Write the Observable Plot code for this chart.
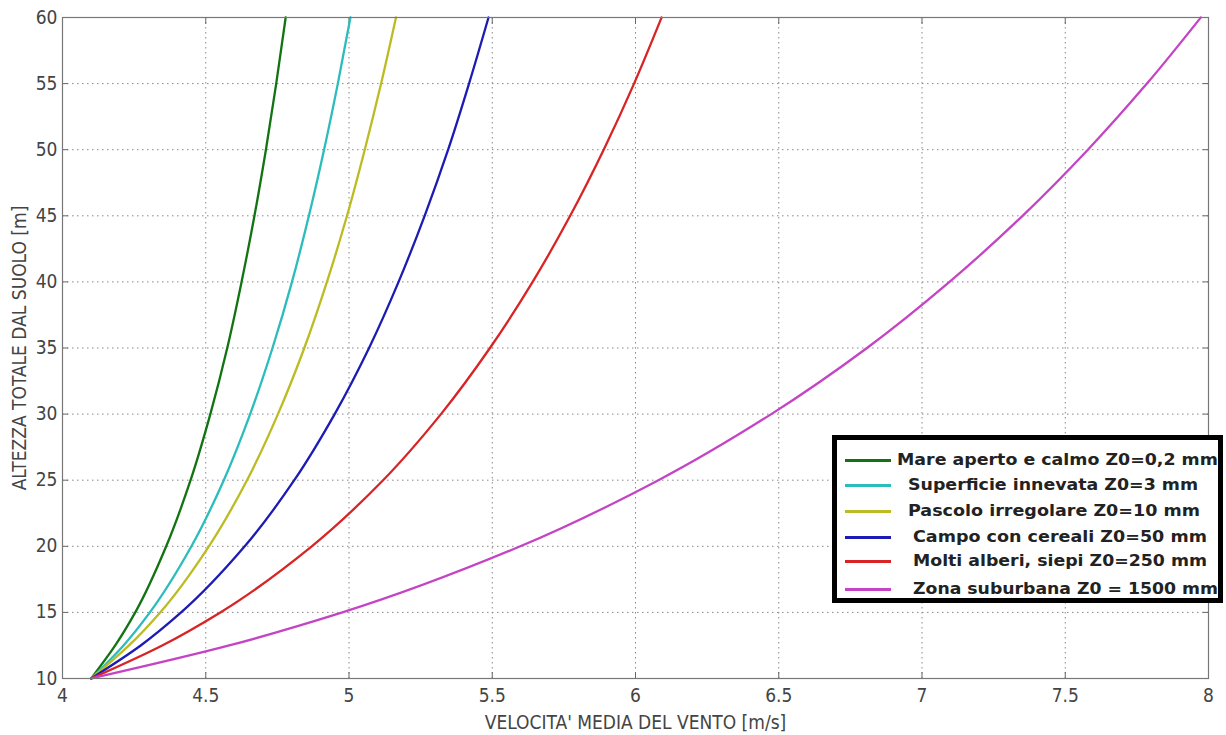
<!DOCTYPE html>
<html>
<head>
<meta charset="utf-8">
<script src="https://cdn.jsdelivr.net/npm/d3@7"></script>
<script src="https://cdn.jsdelivr.net/npm/@observablehq/plot@0.6"></script>
<style>
  html, body { margin: 0; padding: 0; background: #fff; }
  #wrap { position: relative; width: 1226px; height: 735px; overflow: hidden; }
  #wrap svg text { font-stretch: condensed; }
  #legend {
    position: absolute; left: 832px; top: 435px; width: 381px; height: 158px;
    border: 5px solid #000; background: #fff;
    font-family: "DejaVu Sans", Verdana, sans-serif; font-weight: bold; font-size: 15px; color: #222;
  }
  .sw { position: absolute; left: 8px; width: 46px; height: 3px; }
  .lab { position: absolute; white-space: pre; line-height: 20px; transform-origin: left center; }
</style>
</head>
<body>
<div id="wrap"></div>
<script>
// ---- data ----
const heights = [10, 12.5, 15, 20, 25, 30, 35, 40, 45, 50, 55, 60];
const mareAperto         = [4.100, 4.184, 4.254, 4.362, 4.447, 4.516, 4.575, 4.625, 4.670, 4.710, 4.746, 4.779];
const superficieInnevata = [4.100, 4.213, 4.305, 4.450, 4.563, 4.655, 4.733, 4.801, 4.860, 4.913, 4.961, 5.005];
const pascoloIrregolare  = [4.100, 4.232, 4.341, 4.511, 4.644, 4.752, 4.844, 4.923, 4.993, 5.055, 5.112, 5.164];
const campoCereali       = [4.100, 4.273, 4.414, 4.636, 4.809, 4.950, 5.070, 5.173, 5.264, 5.346, 5.419, 5.487];
const moltiAlberi        = [4.100, 4.348, 4.551, 4.870, 5.119, 5.321, 5.492, 5.641, 5.772, 5.889, 5.995, 6.091];
const zonaSuburbana      = [4.100, 4.582, 4.977, 5.598, 6.080, 6.474, 6.808, 7.096, 7.351, 7.579, 7.785, 7.973];

const seriesNames = [
  "Mare aperto e calmo Z0=0,2 mm",
  "Superficie innevata Z0=3 mm",
  "Pascolo irregolare Z0=10 mm",
  "Campo con cereali Z0=50 mm",
  "Molti alberi, siepi Z0=250 mm",
  "Zona suburbana Z0 = 1500 mm"
];
const seriesValues = [mareAperto, superficieInnevata, pascoloIrregolare, campoCereali, moltiAlberi, zonaSuburbana];
const seriesColors = ["#127312", "#2bbcbc", "#bcbc22", "#1c1cb4", "#d82424", "#c444c4"];

const xTicks = [4, 4.5, 5, 5.5, 6, 6.5, 7, 7.5, 8];
const yTicks = [10, 15, 20, 25, 30, 35, 40, 45, 50, 55, 60];

const xLabel = "VELOCITA' MEDIA DEL VENTO [m/s]";
const yLabel = "ALTEZZA TOTALE DAL SUOLO [m]";

// ---- build table ----
const rows = [];
seriesValues.forEach((vals, i) => {
  vals.forEach((v, j) => rows.push({ serie: seriesNames[i], v, h: heights[j] }));
});

const tickFont = '"DejaVu Sans Condensed", "Liberation Sans Narrow", "Arial Narrow", "DejaVu Sans", sans-serif';

const chart = Plot.plot({
  width: 1226,
  height: 735,
  marginLeft: 62,
  marginRight: 18,
  marginTop: 17,
  marginBottom: 57,
  style: { fontFamily: tickFont, fontSize: "18px", color: "#444", background: "#fff" },
  x: { domain: [4, 8] },
  y: { domain: [10, 60] },
  color: { domain: seriesNames, range: seriesColors },
  marks: [
    Plot.gridX(xTicks, { stroke: "#888", strokeOpacity: 1, strokeDasharray: "1.5,3.5" }),
    Plot.gridY(yTicks, { stroke: "#888", strokeOpacity: 1, strokeDasharray: "1.5,3.5" }),
    // inward ticks
    Plot.axisX(xTicks, { anchor: "bottom", tickSize: -6, text: null, label: null, stroke: "#666" }),
    Plot.axisX(xTicks, { anchor: "top", tickSize: -6, text: null, label: null, stroke: "#666" }),
    Plot.axisY(yTicks, { anchor: "left", tickSize: -6, text: null, label: null, stroke: "#666" }),
    Plot.axisY(yTicks, { anchor: "right", tickSize: -6, text: null, label: null, stroke: "#666" }),
    // tick labels
    Plot.axisX(xTicks, { anchor: "bottom", tickSize: 0, tickPadding: 10, tickFormat: d => String(d),
      fontSize: 19, label: xLabel, labelAnchor: "center", labelArrow: "none", labelOffset: 50 }),
    Plot.axisY(yTicks, { anchor: "left", tickSize: 0, tickPadding: 5, tickFormat: d => String(d),
      fontSize: 19, label: yLabel, labelAnchor: "center", labelArrow: "none", labelOffset: 50 }),
    Plot.line(rows, { x: "v", y: "h", z: "serie", stroke: "serie", strokeWidth: 2.3, curve: "monotone-y" }),
    Plot.frame({ stroke: "#777", strokeWidth: 1.2 })
  ]
});

const wrap = document.getElementById("wrap");
wrap.appendChild(chart);

// ---- legend ----
const legend = document.createElement("div");
legend.id = "legend";
wrap.appendChild(legend);
const rowTops = [10, 35, 61, 87, 111, 139];
const labelLefts = [60, 71, 71, 76, 76, 76];
const labelWidths = [321, 290, 292, 294, 294, 305];
seriesNames.forEach((name, i) => {
  const sw = document.createElement("div");
  sw.className = "sw";
  sw.style.top = (rowTops[i] + 9) + "px";
  sw.style.background = seriesColors[i];
  legend.appendChild(sw);
  const lab = document.createElement("div");
  lab.className = "lab";
  lab.style.top = rowTops[i] + "px";
  lab.style.left = labelLefts[i] + "px";
  lab.textContent = name;
  legend.appendChild(lab);
  const w = lab.getBoundingClientRect().width;
  lab.style.transform = "scaleX(" + (labelWidths[i] / w).toFixed(3) + ")";
});
</script>
</body>
</html>
